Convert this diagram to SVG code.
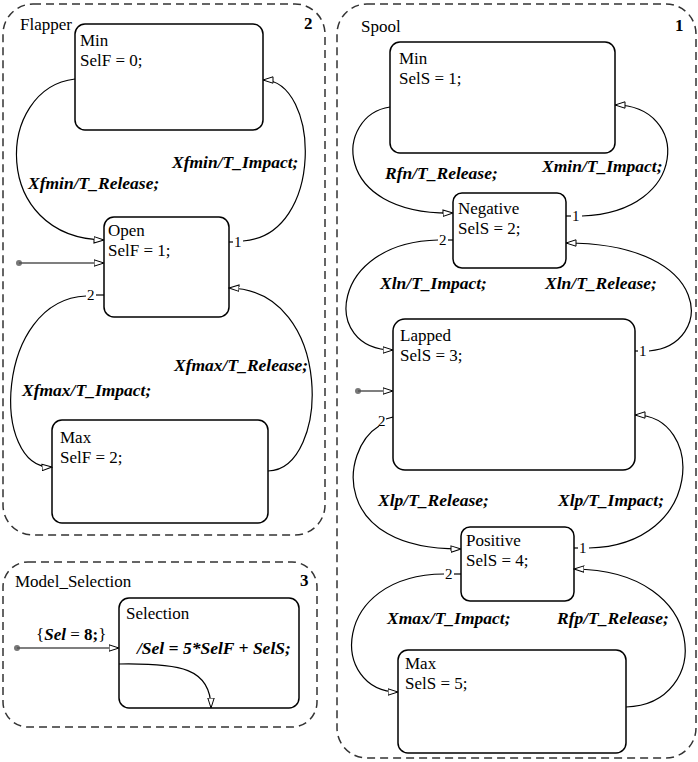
<svg xmlns="http://www.w3.org/2000/svg" width="698" height="762" viewBox="0 0 698 762">
<defs>
<style>
.cont{fill:none;stroke:#333;stroke-width:1.5;stroke-dasharray:8 5}
.node{fill:#fff;stroke:#000;stroke-width:1.5}
.t{font-size:17px;fill:#000}
.lab{font-size:17.5px;font-weight:bold;font-style:italic;fill:#000}
.num{font-size:17px;font-weight:bold;fill:#000}
.pn{font-size:15px;fill:#000}
.ln{fill:none;stroke:#000;stroke-width:1.2}
.lnA{fill:none;stroke:#000;stroke-width:1.2;marker-end:url(#arr)}
.init{fill:none;stroke:#555;stroke-width:1.5;marker-end:url(#arr)}
.dot{fill:#777}
</style>
<marker id="arr" viewBox="0 0 11 8" refX="10.5" refY="4" markerWidth="11" markerHeight="8" markerUnits="userSpaceOnUse" orient="auto">
<path d="M0.5,0.8 L10.5,4 L0.5,7.2 Z" fill="#fff" stroke="#000" stroke-width="1"/>
</marker>
</defs>
<g font-family="Liberation Serif, Times New Roman, serif">
<g id="flapper">
<rect class="cont" x="3" y="4" width="322" height="531" rx="30"/>
<text class="t" x="20" y="30">Flapper</text>
<text class="num" x="304" y="29">2</text>
</g>
<g id="model_selection">
<rect class="cont" x="3" y="562" width="314" height="165" rx="25"/>
<text class="t" x="15" y="587" font-size="16">Model_Selection</text>
<text class="num" x="300" y="586">3</text>
</g>
<g id="spool">
<rect class="cont" x="337" y="4" width="359" height="754" rx="30"/>
<text class="t" x="361" y="32">Spool</text>
<text class="num" x="675" y="31">1</text>
</g>

<g id="f_min"><rect class="node" x="75" y="24" width="188" height="106" rx="10"/><text class="t" x="80" y="46">Min</text><text class="t" x="80" y="66">SelF = 0;</text></g>
<g id="f_open"><rect class="node" x="104" y="217" width="125" height="100" rx="10"/><text class="t" x="108" y="236">Open</text><text class="t" x="108" y="256">SelF = 1;</text></g>
<g id="f_max"><rect class="node" x="52" y="420" width="216" height="103" rx="10"/><text class="t" x="60" y="443">Max</text><text class="t" x="60" y="463">SelF = 2;</text></g>

<g id="selection"><rect class="node" x="119" y="598" width="180" height="110" rx="10"/><text class="t" x="126" y="619">Selection</text></g>

<g id="s_min"><rect class="node" x="390" y="42" width="225" height="111" rx="10"/><text class="t" x="399" y="64">Min</text><text class="t" x="399" y="84">SelS = 1;</text></g>
<g id="s_negative"><rect class="node" x="453" y="193" width="113" height="75" rx="9"/><text class="t" x="458" y="214">Negative</text><text class="t" x="458" y="234">SelS = 2;</text></g>
<g id="s_lapped"><rect class="node" x="393" y="319" width="242" height="151" rx="12"/><text class="t" x="400" y="341">Lapped</text><text class="t" x="400" y="361">SelS = 3;</text></g>
<g id="s_positive"><rect class="node" x="461" y="527" width="113" height="74" rx="9"/><text class="t" x="466" y="546">Positive</text><text class="t" x="466" y="566">SelS = 4;</text></g>
<g id="s_max"><rect class="node" x="398" y="650" width="228" height="103" rx="10"/><text class="t" x="405" y="669">Max</text><text class="t" x="405" y="689">SelS = 5;</text></g>

<g id="connectors">
<path class="lnA" d="M75,79 C-5,88 -10,238 104,240"/>
<text class="lab" x="28" y="189">Xfmin/T_Release;</text>
<path class="ln" d="M229,242 L233,242"/>
<text class="pn" x="234" y="247">1</text>
<path class="lnA" d="M243,241 C325,235 320,80 263,80"/>
<text class="lab" x="172" y="168">Xfmin/T_Impact;</text>
<path class="ln" d="M96,295 L104,295"/>
<text class="pn" x="87" y="300">2</text>
<path class="lnA" d="M86,296 C-5,300 -10,470 52,467"/>
<text class="lab" x="22" y="396">Xfmax/T_Impact;</text>
<path class="lnA" d="M268,471 C330,470 335,290 229,288"/>
<text class="lab" x="174" y="371">Xfmax/T_Release;</text>
<circle class="dot" cx="19" cy="263" r="3"/>
<path class="init" d="M19,263 L104,263"/>
<circle class="dot" cx="17" cy="648" r="3"/>
<path class="init" d="M17,648 L119,648"/>
<text class="t" x="36" y="640">{<tspan font-weight="bold" font-style="italic">Sel</tspan> = <tspan font-weight="bold">8;</tspan>}</text>
<text class="lab" x="137" y="654">/Sel = 5*SelF + SelS;</text>
<path class="lnA" d="M119,664 C180,663 211,668 211,708"/>
<path class="lnA" d="M390,107 C335,115 330,215 453,213"/>
<text class="lab" x="385" y="179">Rfn/T_Release;</text>
<path class="ln" d="M566,216 L571,216"/>
<text class="pn" x="572" y="221">1</text>
<path class="lnA" d="M582,216 C690,212 690,105 615,105"/>
<text class="lab" x="542" y="172">Xmin/T_Impact;</text>
<path class="ln" d="M448,240 L453,240"/>
<text class="pn" x="439" y="245">2</text>
<path class="lnA" d="M438,240 C330,242 320,350 393,350"/>
<text class="lab" x="380" y="289">Xln/T_Impact;</text>
<path class="ln" d="M635,351 L638,351"/>
<text class="pn" x="639" y="356">1</text>
<path class="lnA" d="M649,351 C715,345 715,243 566,243"/>
<text class="lab" x="545" y="289">Xln/T_Release;</text>
<path class="ln" d="M386,419 L393,417"/>
<text class="pn" x="378" y="426">2</text>
<path class="lnA" d="M379,426 C340,450 330,550 461,549"/>
<text class="lab" x="378" y="506">Xlp/T_Release;</text>
<path class="ln" d="M574,548 L578,548"/>
<text class="pn" x="579" y="553">1</text>
<path class="lnA" d="M589,548 C705,545 705,415 635,415"/>
<text class="lab" x="558" y="506">Xlp/T_Impact;</text>
<path class="ln" d="M454,574 L461,574"/>
<text class="pn" x="445" y="579">2</text>
<path class="lnA" d="M444,574 C330,575 330,692 398,692"/>
<text class="lab" x="387" y="624">Xmax/T_Impact;</text>
<path class="lnA" d="M626,707 C712,705 712,570 574,569"/>
<text class="lab" x="557" y="624">Rfp/T_Release;</text>
<circle class="dot" cx="358" cy="391" r="3"/>
<path class="init" d="M358,391 L393,391"/>
</g>
</g>
</svg>
